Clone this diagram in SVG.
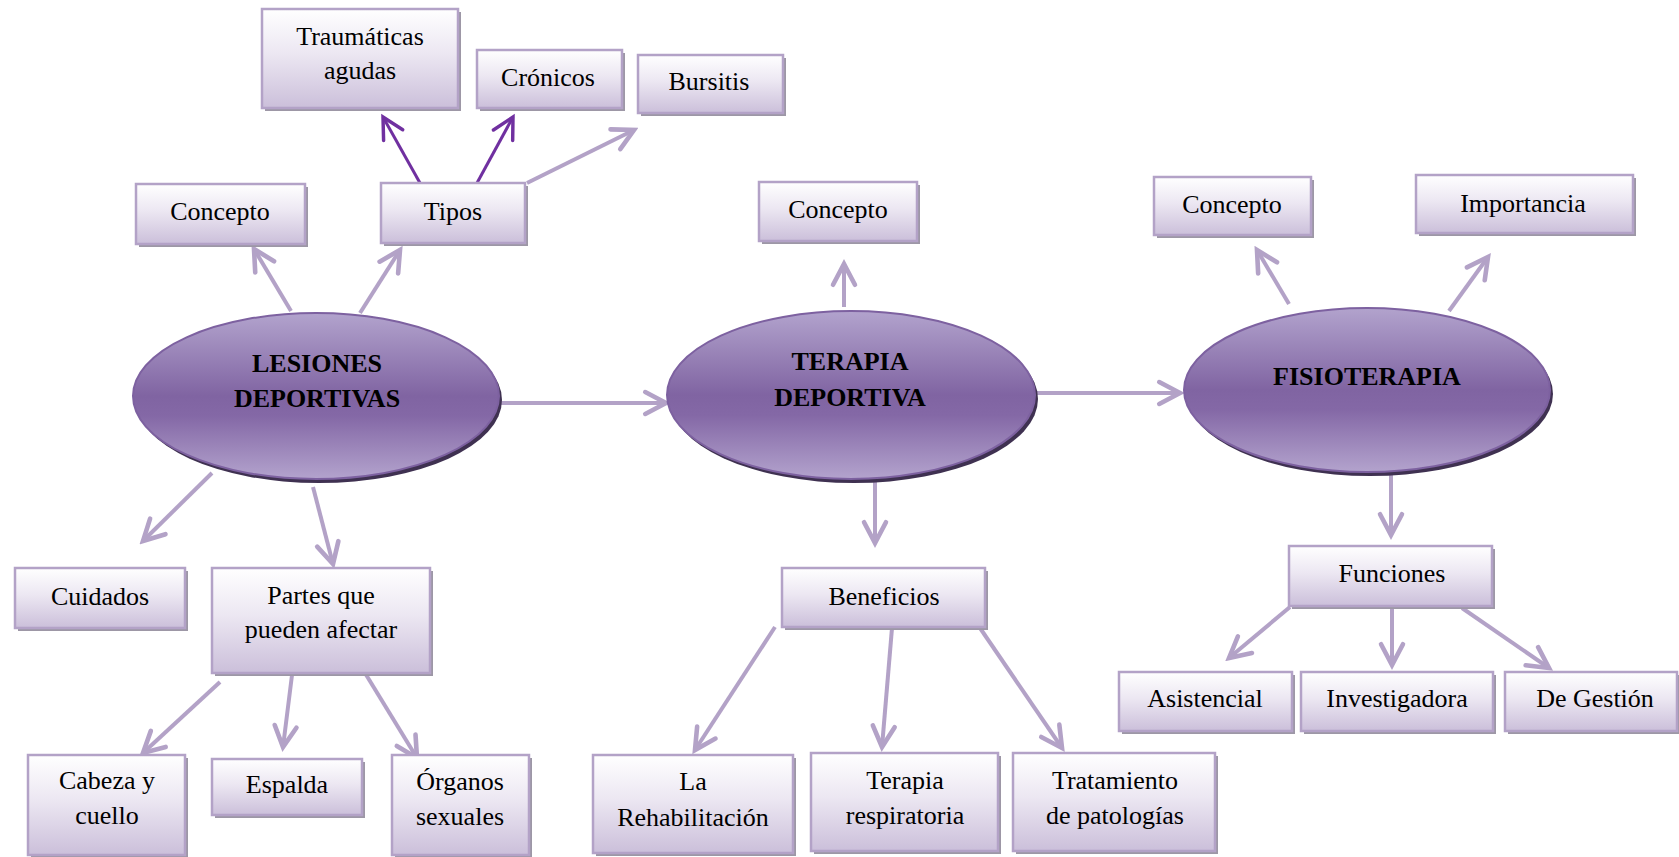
<svg xmlns="http://www.w3.org/2000/svg" width="1679" height="857" viewBox="0 0 1679 857">
<defs>
<linearGradient id="boxg" x1="0" y1="0" x2="0" y2="1">
<stop offset="0" stop-color="#ffffff"/>
<stop offset="0.45" stop-color="#ece7f2"/>
<stop offset="1" stop-color="#cbbfda"/>
</linearGradient>
<linearGradient id="ellg" x1="0" y1="0" x2="0" y2="1">
<stop offset="0" stop-color="#b2a3cd"/>
<stop offset="0.5" stop-color="#8064a2"/>
<stop offset="0.62" stop-color="#8468a6"/>
<stop offset="1" stop-color="#b3a3cd"/>
</linearGradient>
<marker id="ah" markerUnits="userSpaceOnUse" markerWidth="30" markerHeight="30" viewBox="-22 -13 26 26" refX="0" refY="0" orient="auto">
<path d="M-18,-9.5 L0,0 L-18,9.5" fill="none" stroke="#b3a2c7" stroke-width="4" stroke-linecap="round" stroke-linejoin="miter"/>
</marker>
<marker id="ahd" markerUnits="userSpaceOnUse" markerWidth="30" markerHeight="30" viewBox="-22 -13 26 26" refX="0" refY="0" orient="auto">
<path d="M-18,-9.5 L0,0 L-18,9.5" fill="none" stroke="#7030a0" stroke-width="3" stroke-linecap="round" stroke-linejoin="miter"/>
</marker>
</defs>
<style>
.sh{fill:#9d97a6}
.bx{fill:url(#boxg);stroke:#b3a2c7;stroke-width:2.5}
.t{font-family:"Liberation Serif","Times New Roman",serif;font-size:26px;fill:#000;text-anchor:middle}
.tb{font-family:"Liberation Serif","Times New Roman",serif;font-size:26px;font-weight:bold;fill:#000;text-anchor:middle}
.esh{fill:#3f3151}
.el{fill:url(#ellg);stroke:#7d61a0;stroke-width:2}
.c{stroke:#b3a2c7;stroke-width:4;fill:none;marker-end:url(#ah)}
.cd{stroke:#7030a0;stroke-width:3;fill:none;marker-end:url(#ahd)}
</style>
<rect width="1679" height="857" fill="#ffffff"/>

<g id="connectors">
<line class="c" x1="291" y1="311" x2="254" y2="249"/>
<line class="c" x1="360" y1="313" x2="400" y2="250"/>
<line class="cd" x1="420" y1="183" x2="383" y2="117"/>
<line class="cd" x1="477" y1="183" x2="513" y2="117"/>
<line class="c" x1="527" y1="183" x2="634" y2="130"/>
<line class="c" x1="212" y1="473" x2="143" y2="541"/>
<line class="c" x1="313" y1="487" x2="333" y2="564"/>
<line class="c" x1="501" y1="403" x2="666" y2="403"/>
<line class="c" x1="220" y1="682" x2="143" y2="753"/>
<line class="c" x1="292" y1="675" x2="283" y2="747"/>
<line class="c" x1="365" y1="673" x2="417" y2="758"/>
<line class="c" x1="844" y1="307" x2="844" y2="264"/>
<line class="c" x1="875" y1="480" x2="875" y2="543"/>
<line class="c" x1="1037" y1="393" x2="1180" y2="393"/>
<line class="c" x1="775" y1="627" x2="695" y2="750"/>
<line class="c" x1="892" y1="628" x2="882" y2="747"/>
<line class="c" x1="980" y1="628" x2="1062" y2="748"/>
<line class="c" x1="1289" y1="304" x2="1257" y2="250"/>
<line class="c" x1="1449" y1="311" x2="1488" y2="257"/>
<line class="c" x1="1391" y1="474" x2="1391" y2="535"/>
<line class="c" x1="1290" y1="607" x2="1229" y2="658"/>
<line class="c" x1="1392" y1="600" x2="1392" y2="665"/>
<line class="c" x1="1462" y1="608" x2="1549" y2="668"/>
</g>

<g id="lesiones">
<ellipse class="esh" cx="319" cy="400" rx="183" ry="83"/>
<ellipse class="el" cx="316" cy="396" rx="183" ry="83"/>
<text class="tb" x="317" y="372">LESIONES</text>
<text class="tb" x="317" y="407">DEPORTIVAS</text>
</g>
<g id="terapia">
<ellipse class="esh" cx="854" cy="399" rx="184" ry="84"/>
<ellipse class="el" cx="851" cy="395" rx="184" ry="84"/>
<text class="tb" x="850" y="370">TERAPIA</text>
<text class="tb" x="850" y="406">DEPORTIVA</text>
</g>
<g id="fisioterapia">
<ellipse class="esh" cx="1370" cy="394" rx="183" ry="82"/>
<ellipse class="el" cx="1367" cy="390" rx="183" ry="82"/>
<text class="tb" x="1367" y="385">FISIOTERAPIA</text>
</g>

<g id="traumaticas">
<rect class="sh" x="265" y="12" width="196" height="99"/>
<rect class="bx" x="262" y="9" width="196" height="99"/>
<text class="t" x="360" y="45">Traumáticas</text>
<text class="t" x="360" y="79">agudas</text>
</g>
<g id="cronicos">
<rect class="sh" x="480" y="53" width="145" height="58"/>
<rect class="bx" x="477" y="50" width="145" height="58"/>
<text class="t" x="548" y="86">Crónicos</text>
</g>
<g id="bursitis">
<rect class="sh" x="641" y="58" width="145" height="58"/>
<rect class="bx" x="638" y="55" width="145" height="58"/>
<text class="t" x="709" y="90">Bursitis</text>
</g>
<g id="concepto1">
<rect class="sh" x="139" y="187" width="169" height="60"/>
<rect class="bx" x="136" y="184" width="169" height="60"/>
<text class="t" x="220" y="220">Concepto</text>
</g>
<g id="tipos">
<rect class="sh" x="384" y="186" width="144" height="60"/>
<rect class="bx" x="381" y="183" width="144" height="60"/>
<text class="t" x="453" y="220">Tipos</text>
</g>
<g id="cuidados">
<rect class="sh" x="18" y="571" width="170" height="60"/>
<rect class="bx" x="15" y="568" width="170" height="60"/>
<text class="t" x="100" y="605">Cuidados</text>
</g>
<g id="partes">
<rect class="sh" x="215" y="571" width="218" height="105"/>
<rect class="bx" x="212" y="568" width="218" height="105"/>
<text class="t" x="321" y="604">Partes que</text>
<text class="t" x="321" y="638">pueden afectar</text>
</g>
<g id="cabeza">
<rect class="sh" x="31" y="758" width="157" height="100"/>
<rect class="bx" x="28" y="755" width="157" height="100"/>
<text class="t" x="107" y="789">Cabeza y</text>
<text class="t" x="107" y="824">cuello</text>
</g>
<g id="espalda">
<rect class="sh" x="215" y="762" width="150" height="56"/>
<rect class="bx" x="212" y="759" width="150" height="56"/>
<text class="t" x="287" y="793">Espalda</text>
</g>
<g id="organos">
<rect class="sh" x="395" y="758" width="137" height="100"/>
<rect class="bx" x="392" y="755" width="137" height="100"/>
<text class="t" x="460" y="790">Órganos</text>
<text class="t" x="460" y="825">sexuales</text>
</g>
<g id="concepto2">
<rect class="sh" x="762" y="185" width="158" height="59"/>
<rect class="bx" x="759" y="182" width="158" height="59"/>
<text class="t" x="838" y="218">Concepto</text>
</g>
<g id="beneficios">
<rect class="sh" x="785" y="571" width="203" height="59"/>
<rect class="bx" x="782" y="568" width="203" height="59"/>
<text class="t" x="884" y="605">Beneficios</text>
</g>
<g id="rehabilitacion">
<rect class="sh" x="596" y="758" width="200" height="98"/>
<rect class="bx" x="593" y="755" width="200" height="98"/>
<text class="t" x="693" y="790">La</text>
<text class="t" x="693" y="826">Rehabilitación</text>
</g>
<g id="respiratoria">
<rect class="sh" x="814" y="756" width="187" height="98"/>
<rect class="bx" x="811" y="753" width="187" height="98"/>
<text class="t" x="905" y="789">Terapia</text>
<text class="t" x="905" y="824">respiratoria</text>
</g>
<g id="tratamiento">
<rect class="sh" x="1016" y="756" width="202" height="98"/>
<rect class="bx" x="1013" y="753" width="202" height="98"/>
<text class="t" x="1115" y="789">Tratamiento</text>
<text class="t" x="1115" y="824">de patologías</text>
</g>
<g id="concepto3">
<rect class="sh" x="1157" y="180" width="157" height="58"/>
<rect class="bx" x="1154" y="177" width="157" height="58"/>
<text class="t" x="1232" y="213">Concepto</text>
</g>
<g id="importancia">
<rect class="sh" x="1419" y="178" width="217" height="58"/>
<rect class="bx" x="1416" y="175" width="217" height="58"/>
<text class="t" x="1523" y="212">Importancia</text>
</g>
<g id="funciones">
<rect class="sh" x="1292" y="549" width="203" height="60"/>
<rect class="bx" x="1289" y="546" width="203" height="60"/>
<text class="t" x="1392" y="582">Funciones</text>
</g>
<g id="asistencial">
<rect class="sh" x="1122" y="675" width="173" height="59"/>
<rect class="bx" x="1119" y="672" width="173" height="59"/>
<text class="t" x="1205" y="707">Asistencial</text>
</g>
<g id="investigadora">
<rect class="sh" x="1304" y="675" width="192" height="59"/>
<rect class="bx" x="1301" y="672" width="192" height="59"/>
<text class="t" x="1397" y="707">Investigadora</text>
</g>
<g id="degestion">
<rect class="sh" x="1508" y="675" width="171" height="59"/>
<rect class="bx" x="1505" y="672" width="172" height="59"/>
<text class="t" x="1595" y="707">De Gestión</text>
</g>
</svg>
